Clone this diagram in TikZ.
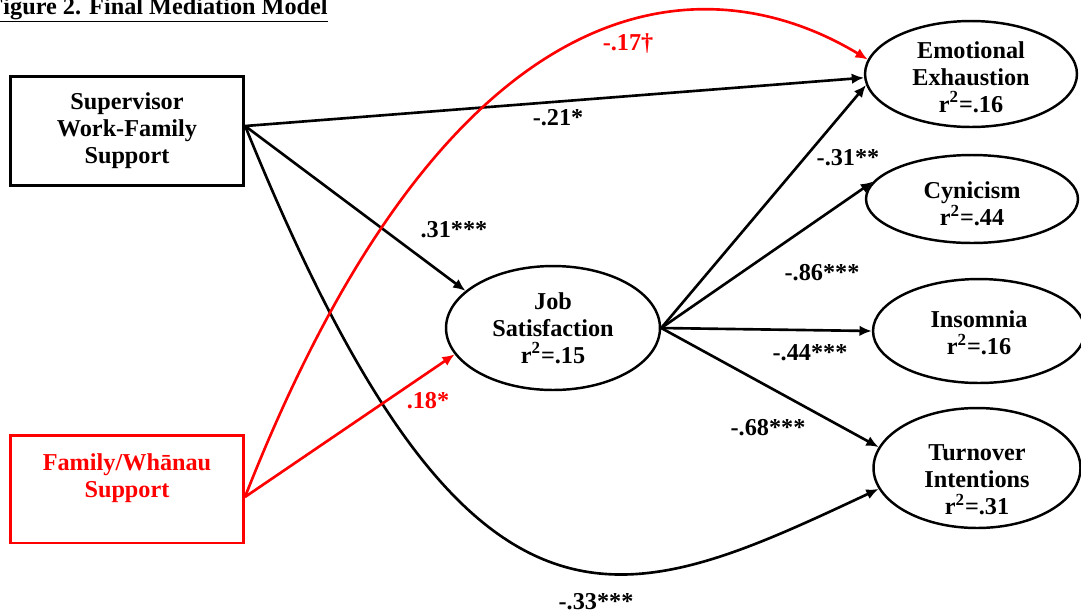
\documentclass[tikz,border=0pt]{standalone}
\usepackage{fontspec}
\setmainfont{Liberation Serif}
\usetikzlibrary{arrows.meta,shapes.geometric}
\begin{document}
\begin{tikzpicture}[x=0.02cm, y=-0.02cm,
    font=\fontsize{13.8}{15.3}\selectfont\bfseries,
    arrowline/.style={line width=1.5pt, -{Latex[length=7pt,width=6pt]}},
    redline/.style={arrowline, red},
    oval/.style={draw, ellipse, line width=1.4pt, inner sep=0pt},
    txt/.style={align=center, inner sep=0pt},
    coef/.style={inner sep=1pt}]
    \useasboundingbox (0,0) rectangle (1081,613);
    \node[anchor=base east, inner sep=0pt] (title) at (328,14) {\underline{Figure 2. Final Mediation Model}};

    \node[draw, line width=1.9pt, minimum width=4.66cm, minimum height=2.18cm, align=center] (sup) at (127,131) {Supervisor\\Work-Family\\Support};
    \node[draw=red, text=red, line width=1.7pt, minimum width=4.66cm, minimum height=2.16cm, align=center] (fam) at (127,489) {Family/Whānau\\Support\\~};
    \coordinate (supout) at ([yshift=0.1cm]sup.east);
    \coordinate (famout) at ([yshift=-0.16cm]fam.east);

    \node[oval, minimum width=4.28cm, minimum height=2.48cm] (job) at (553,328) {};
    \node[txt] (jobtxt) at (553,328) {Job\\Satisfaction\\r\textsuperscript{2}=.15};
    \node[oval, minimum width=4.24cm, minimum height=2.12cm] (ee) at (971,74) {};
    \node[txt] (eetxt) at (971,77) {Emotional\\Exhaustion\\r\textsuperscript{2}=.16};
    \node[oval, minimum width=4.24cm, minimum height=1.76cm] (cyn) at (972,199) {};
    \node[txt] (cyntxt) at (972,204) {Cynicism\\r\textsuperscript{2}=.44};
    \node[oval, minimum width=4.24cm, minimum height=2.08cm] (ins) at (979,331) {};
    \node[txt] (instxt) at (979,333) {Insomnia\\r\textsuperscript{2}=.16};
    \node[oval, minimum width=4.14cm, minimum height=2.4cm] (turn) at (977,468) {};
    \node[txt] (turntxt) at (977,480) {Turnover\\Intentions\\r\textsuperscript{2}=.31};

    \draw[arrowline] (supout) -- (ee.182);
    \draw[arrowline] (supout) -- (job.157);
    \draw[arrowline] (supout) .. controls (470,680) and (620,610) .. (turn.192);
    \draw[redline] (famout) -- (job.195);
    \draw[redline] (famout) .. controls (460,-50) and (720,-30) .. (ee.172);
    \draw[arrowline] (job.east) -- (ee.186);
    \draw[arrowline] (job.east) -- (cyn.170);
    \draw[arrowline] (job.east) -- (ins.west);
    \draw[arrowline] (job.east) -- (turn.168);

    \node[coef, text=red] (c17) at (628,44) {-.17†};
    \node[coef] (c21) at (558,118) {-.21*};
    \node[coef] (c31a) at (454,230) {.31***};
    \node[coef] (c31b) at (848,158) {-.31**};
    \node[coef] (c86) at (822,273) {-.86***};
    \node[coef] (c44) at (810,353) {-.44***};
    \node[coef, text=red] (c18) at (428,401) {.18*};
    \node[coef] (c68) at (768,428) {-.68***};
    \node[coef] (c33) at (596,602) {-.33***};

\end{tikzpicture}
\end{document}
